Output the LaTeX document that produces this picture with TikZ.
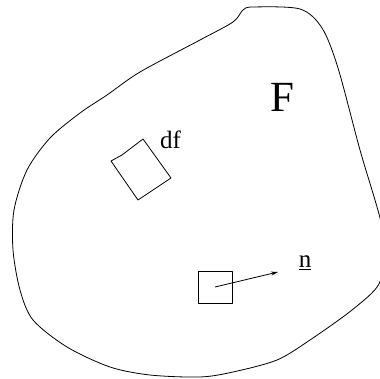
\documentclass[tikz,border=0pt]{standalone}
\usepackage{fontspec}
\setmainfont{Liberation Serif}
\usetikzlibrary{arrows.meta}
\begin{document}
\begin{tikzpicture}[x=1pt,y=-1pt,
  edge/.style={line width=0.8pt, line join=round},
  lbl/.style={inner sep=0pt, font=\fontsize{25}{25}\selectfont}]
\useasboundingbox (0,0) rectangle (380,379);
% region boundary
\draw[edge] plot[smooth cycle, tension=0.5] coordinates {
 (253,7) (300,9) (322,28) (338,68) (360,150) (380,218) (384,250) (379,284)
 (352,310) (310,340) (277,360) (233,372) (200,377) (150,375) (110,367)
 (67,347) (33,320) (20,290) (13,250) (14,210) (27,170) (50,138) (80,113)
 (107,95) (140,72) (200,40) (233,22) (243,10)};
% surface element df
\coordinate (a1) at (143,139);
\coordinate (a2) at (171,178);
\coordinate (a3) at (138,200);
\coordinate (a4) at (111,161);
\coordinate (a5) at (122,155);
\draw[edge] (a1) -- (a2) -- (a3) -- (a4) -- (a5) -- cycle;
% second element with normal
\coordinate (b1) at (198,271);
\coordinate (b2) at (232,303);
\draw[edge] (b1) rectangle (b2);
\coordinate (s) at (215,287);
\coordinate (e) at (278,272);
\draw[edge, -{Stealth[length=7pt,width=4pt]}] (s) -- (e);
% labels
\node[lbl, anchor=base west] (df) at (160,149) {df};
\node[lbl, anchor=base] (n) at (305,268) {\underline{n}};
\node[inner sep=0pt, anchor=base, font=\fontsize{43}{43}\selectfont] (F) at (282,112) {F};
\end{tikzpicture}
\end{document}
